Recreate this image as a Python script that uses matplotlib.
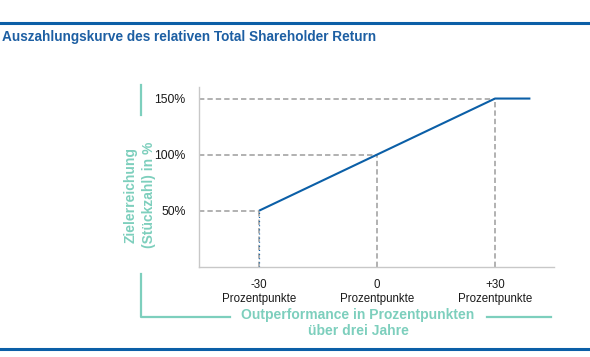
import matplotlib
matplotlib.use("Agg")
import matplotlib.pyplot as plt
from matplotlib.lines import Line2D

plt.rcParams['font.family'] = ['Liberation Sans', 'DejaVu Sans']

# Daten
outperf = [-30, 0, 30, 39]
zielerreichung = [50, 100, 150, 150]
xtick_pos = [-30, 0, 30]
xtick_labels = ['-30\nProzentpunkte', '0\nProzentpunkte', '+30\nProzentpunkte']
ytick_pos = [50, 100, 150]
ytick_labels = ['50%', '100%', '150%']

blau = '#0b5fa7'
gruen = '#7dcfbd'
grau = '#9c9c9c'

W, H = 590, 357
fig = plt.figure(figsize=(W / 100, H / 100), dpi=100)

def fx(px):
    return px / W

def fy(py):
    return 1 - py / H

ax = fig.add_axes([fx(199), fy(266.7), fx(554) - fx(199), fy(87) - fy(266.7)])
ax.set_xlim(-45.3, 45)
ax.set_ylim(0, 160.3)

# Hilfslinien (gestrichelt)
for x, y in zip(outperf[:3], zielerreichung[:3]):
    ax.plot([-45.3, x], [y, y], color=grau, lw=1.1, dashes=(3.5, 2), zorder=1)
    ax.plot([x, x], [0, y], color=grau, lw=1.1, dashes=(3.5, 2), zorder=1)
# blau gepunktete Linie bei -30
ax.plot([outperf[0], outperf[0]], [0, zielerreichung[0]], color=blau, lw=0.9,
        dashes=(0.8, 2.5), zorder=2)

ax.plot(outperf, zielerreichung, color=blau, lw=1.5, zorder=3, solid_capstyle='butt')

for s in ['top', 'right']:
    ax.spines[s].set_visible(False)
for s in ['left', 'bottom']:
    ax.spines[s].set_color('#c8c8c8')
    ax.spines[s].set_linewidth(1.0)

ax.set_xticks(xtick_pos)
ax.set_xticklabels(xtick_labels, fontsize=8.3, color='#1a1a1a', linespacing=1.25)
ax.set_yticks(ytick_pos)
ax.set_yticklabels(ytick_labels, fontsize=8.8, color='#1a1a1a')
ax.tick_params(axis='both', length=0)
ax.tick_params(axis='y', pad=9.5)
ax.tick_params(axis='x', pad=8.5)

# Linien oben und unten
fig.add_artist(Line2D([0, 1], [fy(22.7), fy(22.7)], color=blau, lw=2.2))
fig.add_artist(Line2D([0, 1], [fy(349), fy(349)], color=blau, lw=2.2))

fig.text(fx(2), fy(37), 'Auszahlungskurve des relativen Total Shareholder Return',
         fontsize=9.8, fontweight='bold', color='#1d5fa3', ha='left', va='center')

# Achsenbeschriftungen in Grün
fig.add_artist(Line2D([fx(140.5), fx(140.5)], [fy(85), fy(115)], color=gruen, lw=1.6))
fig.text(fx(140), fy(195), 'Zielerreichung\n(Stückzahl) in %', rotation=90,
         fontsize=10, fontweight='bold', color=gruen, ha='center', va='center',
         linespacing=1.35, multialignment='center')

fig.add_artist(Line2D([fx(140.5), fx(140.5), fx(230)], [fy(274), fy(316.5), fy(316.5)],
                      color=gruen, lw=1.6))
fig.add_artist(Line2D([fx(487), fx(551)], [fy(316.5), fy(316.5)], color=gruen, lw=1.6))
fig.text(fx(358), fy(323), 'Outperformance in Prozentpunkten\nüber drei Jahre',
         fontsize=10, fontweight='bold', color=gruen, ha='center', va='center',
         linespacing=1.25)

fig.savefig('out.png', dpi=100)
